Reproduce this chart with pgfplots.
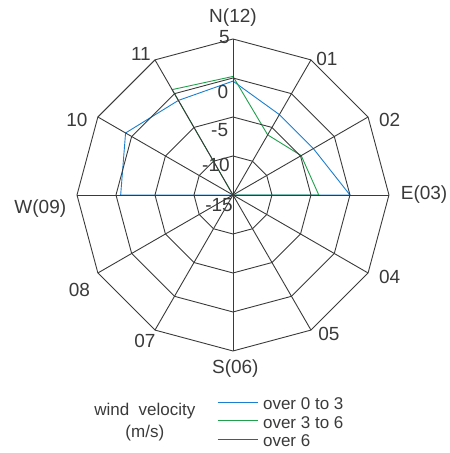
\documentclass[border=0pt]{standalone}
\usepackage{fontspec}
\setmainfont{Liberation Sans}
\usepackage{pgfplots}
\pgfplotsset{compat=1.18}
\definecolor{gridc}{HTML}{3A3A3A}
\definecolor{cblue}{HTML}{1A7FD0}
\definecolor{cgreen}{HTML}{1FA04C}
\definecolor{cred}{HTML}{D0202A}
\definecolor{txt}{HTML}{3A3A3A}
\begin{document}
\begin{tikzpicture}
\begin{axis}[
  x=7.8pt, y=7.8pt,
  xmin=-29.87, xmax=27.82, ymin=-33.08, ymax=25,
  hide axis, clip=false,
  legend style={at={(axis cs:-2.05,-26.0)}, anchor=north west, draw=none, fill=none,
    font=\fontsize{17}{17}\selectfont, text=txt, inner sep=0pt, row sep=6.5pt, column sep=5pt,
    nodes={inner sep=0pt, text height=12pt, text depth=0pt}},
  legend cell align=left,
  legend image code/.code={\draw[#1, line width=0.9pt] (0pt,2pt) -- (40pt,2pt);},
]
% series: angle (deg, ccw from east), radius = value + 15
\addplot[cblue, line width=0.9pt, data cs=polar] coordinates {
 (90,14.6) (60,11.9) (30,11.9) (0,15.0) (-30,0) (-60,0) (-90,0) (-120,0) (-150,0)
 (-180,14.4) (150,15.9) (120,14.0) (90,14.6)};
\addlegendentry{over 0 to 3}
\addplot[cgreen, line width=0.9pt, data cs=polar] coordinates {
 (90,15.2) (60,8.9) (30,10.1) (0,11.0) (-30,0) (-60,0) (-90,0) (-120,0) (-150,0)
 (-180,0) (150,0) (120,15.6) (90,15.2)};
\addlegendentry{over 3 to 6}
\addplot[cred, line width=0.9pt, data cs=polar] coordinates {
 (90,0) (60,0) (30,0) (0,0) (-30,0) (-60,0) (-90,0) (-120,0) (-150,0)
 (-180,0) (150,0) (120,0) (90,0)};
\addlegendentry{over 6}
% rings (dodecagons) at values -10,-5,0,5 (radius = value + 15)
\addplot[gridc, line width=0.9pt, data cs=polar, forget plot] coordinates {(0,5) (30,5) (60,5) (90,5) (120,5) (150,5) (180,5) (210,5) (240,5) (270,5) (300,5) (330,5) (360,5)};
\addplot[gridc, line width=0.9pt, data cs=polar, forget plot] coordinates {(0,10) (30,10) (60,10) (90,10) (120,10) (150,10) (180,10) (210,10) (240,10) (270,10) (300,10) (330,10) (360,10)};
\addplot[gridc, line width=0.9pt, data cs=polar, forget plot] coordinates {(0,15) (30,15) (60,15) (90,15) (120,15) (150,15) (180,15) (210,15) (240,15) (270,15) (300,15) (330,15) (360,15)};
\addplot[gridc, line width=0.9pt, data cs=polar, forget plot] coordinates {(0,20) (30,20) (60,20) (90,20) (120,20) (150,20) (180,20) (210,20) (240,20) (270,20) (300,20) (330,20) (360,20)};
% spokes
\addplot[gridc, line width=0.9pt, data cs=polar, forget plot] coordinates {(0,20) (0,0) (180,20)};
\addplot[gridc, line width=0.9pt, data cs=polar, forget plot] coordinates {(30,20) (30,0) (210,20)};
\addplot[gridc, line width=0.9pt, data cs=polar, forget plot] coordinates {(60,20) (60,0) (240,20)};
\addplot[gridc, line width=0.9pt, data cs=polar, forget plot] coordinates {(90,20) (90,0) (270,20)};
\addplot[gridc, line width=0.9pt, data cs=polar, forget plot] coordinates {(120,20) (120,0) (300,20)};
\addplot[gridc, line width=0.9pt, data cs=polar, forget plot] coordinates {(150,20) (150,0) (330,20)};
% radial tick labels
\begin{scope}[every node/.style={text=txt, font=\fontsize{19}{19}\selectfont, inner sep=0pt}]
\node[anchor=east] at (axis cs:-0.4,20.3) {5};
\node[anchor=east] at (axis cs:-0.6,13.2) {0};
\node[anchor=east] at (axis cs:-0.6,8.3) {-5};
\node[anchor=east] at (axis cs:-0.4,3.8) {-10};
\node[anchor=east] at (axis cs:0.0,-1.3) {-15};
% direction labels
\node at (axis cs:0,22.8) {N(12)};
\node at (axis cs:12.05,17.5) {01};
\node at (axis cs:20.1,9.6) {02};
\node at (axis cs:24.5,0.1) {E(03)};
\node at (axis cs:20.1,-10.5) {04};
\node at (axis cs:12.3,-17.8) {05};
\node at (axis cs:0.3,-22.3) {S(06)};
\node at (axis cs:-11.3,-18.7) {07};
\node at (axis cs:-19.7,-12.2) {08};
\node at (axis cs:-24.7,-1.8) {W(09)};
\node at (axis cs:-20.0,9.6) {10};
\node at (axis cs:-11.8,18.1) {11};
\end{scope}
\node[text=txt, font=\fontsize{17}{17}\selectfont, inner sep=0pt] at (axis cs:-11.3,-27.7) {wind\ \ velocity};
\node[text=txt, font=\fontsize{17}{17}\selectfont, inner sep=0pt] at (axis cs:-11.3,-30.5) {(m/s)};
\path (rel axis cs:0,0) rectangle (rel axis cs:1,1);
\end{axis}
\end{tikzpicture}
\end{document}
